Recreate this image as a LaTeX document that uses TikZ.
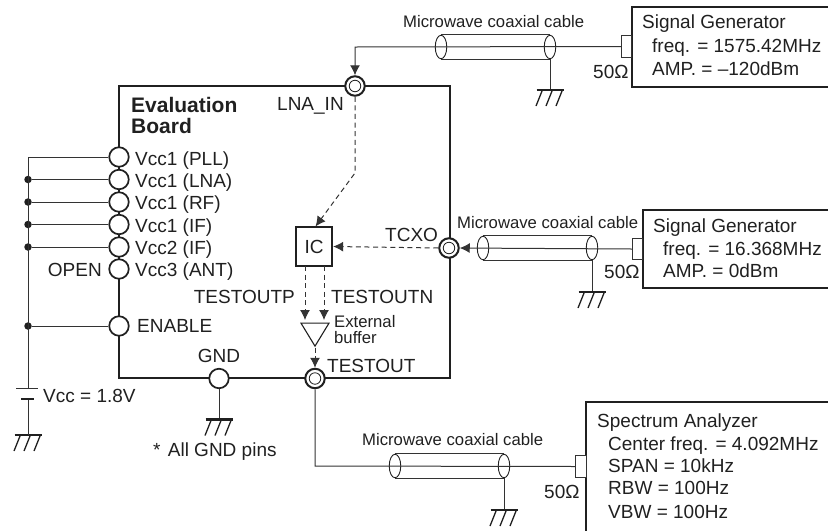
\documentclass[tikz,border=0pt]{standalone}
\usepackage{fontspec}
\setmainfont{Liberation Sans}
\usetikzlibrary{arrows.meta,shapes.geometric,calc}
\definecolor{ink}{HTML}{202020}
\definecolor{wire}{HTML}{333333}
\tikzset{
  lbl/.style={inner sep=0pt,anchor=base west,text=ink,font=\fontsize{19}{19}\selectfont},
  lblr/.style={lbl,anchor=base east},
  lblc/.style={lbl,anchor=base},
  small/.style={lbl,font=\fontsize{16.7}{16.7}\selectfont},
  boldlbl/.style={lbl,font=\fontsize{21}{21}\selectfont\bfseries},
  heavy/.style={draw=ink,line width=2.3pt},
  wireline/.style={draw=wire,line width=1pt},
  pin/.style={circle,draw=ink,fill=white,line width=1.7pt,minimum size=19.5pt,inner sep=0pt},
  port/.style={circle,draw=ink,fill=white,line width=2pt,minimum size=19.5pt,inner sep=0pt},
  portin/.style={circle,draw=ink,fill=white,line width=.8pt,minimum size=11.5pt,inner sep=0pt},
  bushole/.style={circle,fill=ink,minimum size=7.5pt,inner sep=0pt},
  term/.style={rectangle,draw=wire,fill=white,line width=1pt,minimum width=10.5pt,minimum height=21.5pt,inner sep=0pt},
  cabend/.style={ellipse,draw=ink,line width=.9pt,minimum width=11.5pt,minimum height=23.5pt,inner sep=0pt},
  dash line/.style={draw=wire,line width=1pt,dash pattern=on 5pt off 3.6pt},
  tip/.style={-{Latex[length=10pt,width=10pt]}},
  gndsym/.pic={
    \draw[ink,line width=2.1pt] (-13.5,0) -- (13.5,0);
    \foreach \dx in {-13,-3,7}{\draw[ink,line width=1.3pt] (\dx+5,1) -- (\dx-1,16);}
  },
}
\begin{document}
\begin{tikzpicture}[x=1pt,y=-1pt]
\useasboundingbox (0,0) rectangle (828,531);
% instrument boxes (open to the right, as cropped)
\draw[heavy] (828,7) -- (632,7) -- (632,87) -- (828,87);
\draw[heavy] (828,210) -- (643,210) -- (643,288) -- (828,288);
\draw[heavy] (828,402) -- (586,402) -- (586,531);
% board
\node[heavy,rectangle,inner sep=0pt,minimum width=331pt,minimum height=292pt] (board) at (284.5,232) {};
% pins
\node[pin] (pll) at (119,157) {};
\node[pin] (lna) at (119,179.5) {};
\node[pin] (rf) at (119,202) {};
\node[pin] (ifa) at (119,224.5) {};
\node[pin] (ifb) at (119,247) {};
\node[pin] (ant) at (119,269) {};
\node[pin] (en) at (119,326) {};
\node[pin] (gnd) at (219,378.5) {};
% RF ports
\node[port] (lnain) at (355,86) {};
\node[portin] (lnainb) at (355,86) {};
\node[port] (tcxo) at (449,248) {};
\node[portin] (tcxob) at (449,248) {};
\node[port] (tout) at (315,378.5) {};
\node[portin] (toutb) at (315,378.5) {};
% IC and buffer
\node[heavy,rectangle,inner sep=0pt,minimum width=36pt,minimum height=39pt,text=ink,font=\fontsize{19}{19}\selectfont] (ic) at (314,246.5) {IC};
\node[isosceles triangle,shape border rotate=-90,isosceles triangle stretches,draw=ink,fill=white,line width=1.1pt,inner sep=0pt,minimum width=28pt,minimum height=23pt] (buf) at (315,331) {};
% termination boxes
\node[term] (t1) at (626.5,46.5) {};
\node[term] (t2) at (637.5,249) {};
\node[term] (t3) at (581,466.5) {};
% cable ends
\node[cabend] (c1l) at (441,47) {};
\node[cabend] (c1r) at (550,47) {};
\node[cabend] (c2l) at (483,248) {};
\node[cabend] (c2r) at (592,248) {};
\node[cabend] (c3l) at (395,466) {};
\node[cabend] (c3r) at (504,466) {};
% cable bodies
\draw[wireline] (c1l.north) -- (c1r.north) (c1l.south) -- (c1r.south);
\draw[wireline] (c2l.north) -- (c2r.north) (c2l.south) -- (c2r.south);
\draw[wireline] (c3l.north) -- (c3r.north) (c3l.south) -- (c3r.south);
% cable wires
\coordinate (bend1) at (355,47);
\coordinate (bend3) at (315,466);
\draw[wireline,tip] (t1.west) -- (bend1) -- (lnain.north);
\draw[wireline,tip] (t2.west) -- (tcxo.east);
\draw[wireline] (tout.south) -- (bend3) -- (t3.west);
% grounds
\coordinate (g1) at (550,90);
\coordinate (g2) at (592,292);
\coordinate (g3) at (504,510);
\coordinate (g4) at (219,419.5);
\coordinate (g5) at (28,435);
\draw[wireline] (c1r.south) -- (g1);
\draw[wireline] (c2r.south) -- (g2);
\draw[wireline] (c3r.south) -- (g3);
\draw[wireline] (gnd.south) -- (g4);
\pic at (g1) {gndsym};
\pic at (g2) {gndsym};
\pic at (g3) {gndsym};
\pic at (g4) {gndsym};
\pic at (g5) {gndsym};
% signal path inside the board
\coordinate (kink) at (355,173);
\draw[dash line,tip] (lnain.south) -- (kink) -- (315.5,226.5);
\draw[dash line,tip] (tcxo.west) -- (ic.east);
\coordinate (ica) at (305,266);
\coordinate (icb) at (324,266);
\coordinate (bufa) at (305,320);
\coordinate (bufb) at (324,320);
\draw[dash line,tip] (ica) -- (bufa);
\draw[dash line,tip] (icb) -- (bufb);
\draw[dash line,tip] (buf.apex) -- (tout.north);
% Vcc bus
\coordinate (bustop) at (28,157);
\coordinate (platea) at (28,388);
\coordinate (plateb) at (28,399);
\node[bushole] (d1) at (28,179.5) {};
\node[bushole] (d2) at (28,202) {};
\node[bushole] (d3) at (28,224.5) {};
\node[bushole] (d4) at (28,247) {};
\node[bushole] (d5) at (28,326) {};
\draw[wireline] (pll.west) -- (bustop) -- (platea);
\draw[wireline] (plateb) -- (g5);
\draw[wireline] (d1) -- (lna.west);
\draw[wireline] (d2) -- (rf.west);
\draw[wireline] (d3) -- (ifa.west);
\draw[wireline] (d4) -- (ifb.west);
\draw[wireline] (d5) -- (en.west);
\draw[wire,line width=1pt] (16,388) -- (38,388);
\draw[ink,line width=2.6pt] (21,399) -- (34,399);
% labels
\node[boldlbl] (tev) at (131,112) {Evaluation};
\node[boldlbl] (tbo) at (131,133) {Board};
\node[lbl] (tl1) at (277,110) {LNA\_IN};
\node[lbl] (tv1) at (135,165) {Vcc1 (PLL)};
\node[lbl] (tv2) at (135,187) {Vcc1 (LNA)};
\node[lbl] (tv3) at (135,209.5) {Vcc1 (RF)};
\node[lbl] (tv4) at (135,232) {Vcc1 (IF)};
\node[lbl] (tv5) at (135,254) {Vcc2 (IF)};
\node[lbl] (tv6) at (135,276) {Vcc3 (ANT)};
\node[lblr] (top) at (102,276) {OPEN};
\node[lbl] (ten) at (137,332) {ENABLE};
\node[lbl] (ttc) at (385,241) {TCXO};
\node[lblr] (ttp) at (295,303) {TESTOUTP};
\node[lbl] (ttn) at (331,303) {TESTOUTN};
\node[small] (tex) at (334,327) {External};
\node[small] (tbu) at (334,343) {buffer};
\node[lbl] (tto) at (327,372) {TESTOUT};
\node[lblc] (tgn) at (219,362) {GND};
\node[lbl] (tvc) at (43,402) {Vcc = 1.8V};
\node[lbl] (tag) at (153,456) {*\hspace{2pt} All GND pins};
\node[small] (tm1) at (403,27) {Microwave coaxial cable};
\node[small] (tm2) at (457,228) {Microwave coaxial cable};
\node[small] (tm3) at (362,445) {Microwave coaxial cable};
\node[lbl] (to1) at (593,78) {50Ω};
\node[lbl] (to2) at (604,278) {50Ω};
\node[lbl] (to3) at (544,498) {50Ω};
\node[lbl] (s1a) at (642,28) {Signal Generator};
\node[lbl] (s1b) at (652,52) {freq. = 1575.42MHz};
\node[lbl] (s1c) at (652,75) {AMP. = –120dBm};
\node[lbl] (s2a) at (653,232) {Signal Generator};
\node[lbl] (s2b) at (663,255) {freq. = 16.368MHz};
\node[lbl] (s2c) at (663,277) {AMP. = 0dBm};
\node[lbl] (a1) at (597,427) {Spectrum Analyzer};
\node[lbl] (a2) at (608,450) {Center freq. = 4.092MHz};
\node[lbl] (a3) at (608,472) {SPAN = 10kHz};
\node[lbl] (a4) at (608,494) {RBW = 100Hz};
\node[lbl] (a5) at (608,518) {VBW = 100Hz};
\end{tikzpicture}
\end{document}
